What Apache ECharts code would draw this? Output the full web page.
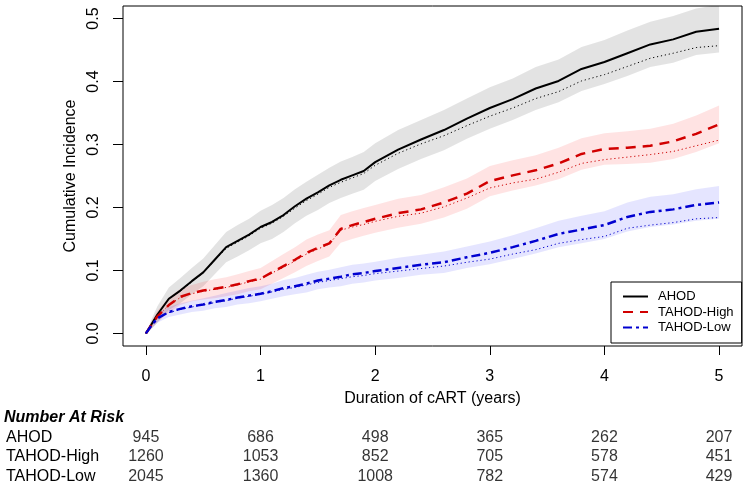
<!DOCTYPE html>
<html>
<head>
<meta charset="utf-8">
<script src="https://cdn.jsdelivr.net/npm/echarts@6/dist/echarts.min.js"></script>
<style>
html,body{margin:0;padding:0;background:#fff;}
#chart{width:748px;height:486px;}
</style>
</head>
<body>
<div id="chart"></div>
<script>
// ---- data ----
const T = [0, 0.05, 0.1, 0.2, 0.3, 0.4, 0.5, 0.6, 0.7, 0.8, 0.9, 1.0, 1.1, 1.2, 1.3, 1.4, 1.5, 1.6, 1.7, 1.8, 1.9, 2.0, 2.2, 2.4, 2.6, 2.8, 3.0, 3.2, 3.4, 3.6, 3.8, 4.0, 4.2, 4.4, 4.6, 4.8, 5.0];

const ahod      = [0, 0.015, 0.030, 0.055, 0.068, 0.083, 0.097, 0.117, 0.137, 0.147, 0.157, 0.169, 0.177, 0.188, 0.202, 0.214, 0.224, 0.235, 0.244, 0.251, 0.258, 0.272, 0.292, 0.308, 0.323, 0.341, 0.358, 0.372, 0.389, 0.401, 0.420, 0.431, 0.445, 0.459, 0.467, 0.479, 0.484];
const ahodAlt   = [0, 0.015, 0.030, 0.055, 0.067, 0.082, 0.096, 0.116, 0.135, 0.145, 0.155, 0.167, 0.175, 0.186, 0.199, 0.211, 0.221, 0.232, 0.240, 0.247, 0.254, 0.267, 0.286, 0.301, 0.314, 0.330, 0.345, 0.358, 0.373, 0.384, 0.401, 0.411, 0.424, 0.437, 0.445, 0.454, 0.457];
const ahodLo    = [0, 0.007, 0.017, 0.037, 0.048, 0.062, 0.075, 0.094, 0.113, 0.122, 0.132, 0.143, 0.150, 0.161, 0.175, 0.187, 0.196, 0.207, 0.215, 0.222, 0.228, 0.242, 0.261, 0.277, 0.291, 0.309, 0.325, 0.339, 0.355, 0.367, 0.385, 0.396, 0.409, 0.423, 0.430, 0.442, 0.446];
const ahodUp    = [0, 0.023, 0.043, 0.073, 0.088, 0.104, 0.119, 0.140, 0.161, 0.172, 0.182, 0.195, 0.204, 0.215, 0.229, 0.241, 0.252, 0.263, 0.273, 0.280, 0.288, 0.302, 0.323, 0.339, 0.355, 0.373, 0.391, 0.405, 0.423, 0.435, 0.455, 0.466, 0.481, 0.495, 0.504, 0.516, 0.522];

const high      = [0, 0.014, 0.027, 0.045, 0.058, 0.064, 0.068, 0.071, 0.074, 0.078, 0.083, 0.087, 0.097, 0.107, 0.117, 0.128, 0.136, 0.143, 0.166, 0.172, 0.177, 0.182, 0.191, 0.197, 0.208, 0.222, 0.242, 0.251, 0.259, 0.270, 0.285, 0.293, 0.295, 0.298, 0.305, 0.317, 0.332];
const highAlt   = [0, 0.014, 0.027, 0.045, 0.057, 0.063, 0.067, 0.070, 0.073, 0.077, 0.082, 0.086, 0.096, 0.105, 0.115, 0.126, 0.134, 0.142, 0.164, 0.169, 0.173, 0.178, 0.186, 0.191, 0.201, 0.215, 0.231, 0.239, 0.245, 0.256, 0.270, 0.276, 0.280, 0.284, 0.289, 0.298, 0.307];
const highLo    = [0, 0.008, 0.018, 0.033, 0.045, 0.051, 0.054, 0.056, 0.059, 0.062, 0.067, 0.070, 0.079, 0.088, 0.097, 0.107, 0.115, 0.122, 0.144, 0.150, 0.155, 0.160, 0.168, 0.174, 0.184, 0.198, 0.218, 0.227, 0.235, 0.245, 0.260, 0.268, 0.269, 0.271, 0.277, 0.288, 0.302];
const highUp    = [0, 0.020, 0.036, 0.057, 0.071, 0.077, 0.082, 0.086, 0.089, 0.094, 0.099, 0.104, 0.115, 0.126, 0.137, 0.149, 0.157, 0.164, 0.188, 0.194, 0.199, 0.204, 0.214, 0.220, 0.232, 0.246, 0.266, 0.275, 0.283, 0.295, 0.310, 0.318, 0.321, 0.325, 0.333, 0.346, 0.362];

const low       = [0, 0.013, 0.024, 0.034, 0.039, 0.043, 0.046, 0.050, 0.053, 0.057, 0.060, 0.063, 0.067, 0.072, 0.075, 0.079, 0.084, 0.087, 0.090, 0.094, 0.096, 0.099, 0.104, 0.109, 0.113, 0.121, 0.128, 0.137, 0.147, 0.158, 0.165, 0.172, 0.185, 0.193, 0.197, 0.204, 0.208];
const lowAlt    = [0, 0.013, 0.024, 0.033, 0.038, 0.042, 0.045, 0.049, 0.052, 0.056, 0.059, 0.062, 0.066, 0.070, 0.073, 0.077, 0.081, 0.084, 0.087, 0.090, 0.092, 0.095, 0.099, 0.103, 0.107, 0.113, 0.118, 0.126, 0.133, 0.143, 0.149, 0.154, 0.167, 0.172, 0.176, 0.182, 0.184];
const lowLo     = [0, 0.008, 0.017, 0.026, 0.030, 0.034, 0.036, 0.040, 0.042, 0.046, 0.048, 0.051, 0.055, 0.059, 0.062, 0.065, 0.070, 0.073, 0.075, 0.079, 0.081, 0.084, 0.088, 0.093, 0.096, 0.104, 0.110, 0.118, 0.127, 0.137, 0.143, 0.150, 0.162, 0.169, 0.173, 0.179, 0.182];
const lowUp     = [0, 0.018, 0.031, 0.042, 0.048, 0.052, 0.056, 0.060, 0.064, 0.068, 0.072, 0.075, 0.079, 0.085, 0.088, 0.093, 0.098, 0.101, 0.105, 0.109, 0.111, 0.114, 0.120, 0.125, 0.130, 0.138, 0.146, 0.156, 0.167, 0.179, 0.187, 0.194, 0.208, 0.217, 0.221, 0.229, 0.234];

const xTicks = [0, 1, 2, 3, 4, 5];
const yTicks = [0, 0.1, 0.2, 0.3, 0.4, 0.5];

const groups = ['AHOD', 'TAHOD-High', 'TAHOD-Low'];
const riskTimes = [0, 1, 2, 3, 4, 5];
const riskAHOD = [945, 686, 498, 365, 262, 207];
const riskHigh = [1260, 1053, 852, 705, 578, 451];
const riskLow  = [2045, 1360, 1008, 782, 574, 429];

// ---- chart ----
const FONT = '"Liberation Sans", Arial, Helvetica, sans-serif';
const pairs = vals => T.map((t, i) => [t, vals[i]]);

function band(name, lo, up, fill) {
  return {
    name: name, type: 'custom', silent: true, clip: true, z: 1,
    xAxisIndex: 0, yAxisIndex: 0,
    data: [[T[0], lo[0]]],
    renderItem: function (params, api) {
      const pts = [];
      for (let i = 0; i < T.length; i++) pts.push(api.coord([T[i], up[i]]));
      for (let i = T.length - 1; i >= 0; i--) pts.push(api.coord([T[i], lo[i]]));
      return { type: 'polygon', shape: { points: pts }, style: { fill: fill } };
    }
  };
}
function dotted(name, vals, color) {
  return {
    name: name, type: 'line', data: pairs(vals), symbol: 'none', silent: true, z: 3,
    clip: true, lineStyle: { color: color, width: 1, type: [1.2, 2.8] }
  };
}
function main(name, vals, color, width, dash) {
  return {
    name: name, type: 'line', data: pairs(vals), symbol: 'none', z: 4,
    clip: true, color: color,
    lineStyle: { color: color, width: width, type: dash }
  };
}
const riskRow = (name, vals) => riskTimes.map((t, i) => [t, name, vals[i]]);

const chart = echarts.init(document.getElementById('chart'), null, { renderer: 'canvas' });
chart.setOption({
  animation: false,
  backgroundColor: '#fff',
  textStyle: { fontFamily: FONT, color: '#000' },
  title: {
    text: 'Number At Risk', left: 4, top: 410, padding: 0,
    textStyle: { fontFamily: FONT, fontSize: 16, fontWeight: 'bold', fontStyle: 'italic', color: '#000' }
  },
  grid: [
    { left: 123, top: 6, width: 619, height: 340, show: true, borderColor: '#000', borderWidth: 1, backgroundColor: 'transparent' },
    { left: 123, top: 428, width: 619, height: 58, show: false }
  ],
  legend: {
    data: groups, left: 611, top: 282, orient: 'vertical',
    itemWidth: 25, itemHeight: 14, itemGap: 2.5,
    padding: [8, 8, 9, 11],
    backgroundColor: '#fff', borderColor: '#000', borderWidth: 1, borderRadius: 0,
    itemStyle: { color: 'rgba(0,0,0,0)', borderWidth: 0, opacity: 0 },
    textStyle: { fontFamily: FONT, fontSize: 13, color: '#000', padding: [0, 0, 0, 5] },
    selectedMode: false
  },
  xAxis: [
    {
      type: 'value', gridIndex: 0, min: -0.2, max: 5.2,
      name: 'Duration of cART (years)', nameLocation: 'middle', nameGap: 45,
      nameTextStyle: { fontFamily: FONT, fontSize: 16, color: '#000' },
      axisLine: { show: false, onZero: false },
      splitLine: { show: false },
      axisTick: { show: true, inside: false, length: 9, customValues: xTicks, lineStyle: { color: '#000', width: 1 } },
      axisLabel: { customValues: xTicks, margin: 23, fontFamily: FONT, fontSize: 16, color: '#000' }
    },
    {
      type: 'value', gridIndex: 1, min: -0.2, max: 5.2, show: false
    }
  ],
  yAxis: [
    {
      type: 'value', gridIndex: 0, min: -0.02, max: 0.52,
      name: 'Cumulative Incidence', nameLocation: 'middle', nameGap: 38, nameRotate: 90,
      nameTextStyle: { fontFamily: FONT, fontSize: 16, color: '#000' },
      axisLine: { show: false, onZero: false },
      splitLine: { show: false },
      axisTick: { show: true, inside: false, length: 10, customValues: yTicks, lineStyle: { color: '#000', width: 1 } },
      axisLabel: { customValues: yTicks, rotate: 90, margin: 21, fontFamily: FONT, fontSize: 16, color: '#000',
        formatter: v => v.toFixed(1) }
    },
    {
      type: 'category', gridIndex: 1, data: groups, inverse: true,
      axisLine: { show: false }, axisTick: { show: false }, splitLine: { show: false },
      axisLabel: { interval: 0, align: 'left', margin: 117, fontFamily: FONT, fontSize: 16, color: '#000' }
    }
  ],
  series: [
    band('AHOD band', ahodLo, ahodUp, 'rgba(0,0,0,0.11)'),
    band('TAHOD-High band', highLo, highUp, 'rgba(255,0,0,0.11)'),
    band('TAHOD-Low band', lowLo, lowUp, 'rgba(0,0,255,0.10)'),
    dotted('AHOD alt', ahodAlt, '#000'),
    dotted('TAHOD-High alt', highAlt, '#cd0000'),
    dotted('TAHOD-Low alt', lowAlt, '#0000cd'),
    main('AHOD', ahod, '#000', 2, 'solid'),
    main('TAHOD-High', high, '#d10000', 2.5, [10, 7]),
    main('TAHOD-Low', low, '#0000d0', 2.5, [9, 4, 3, 4]),
    {
      name: 'risk', type: 'scatter', xAxisIndex: 1, yAxisIndex: 1, silent: true,
      symbolSize: 1, itemStyle: { color: 'rgba(0,0,0,0)' },
      data: [].concat(riskRow('AHOD', riskAHOD), riskRow('TAHOD-High', riskHigh), riskRow('TAHOD-Low', riskLow)),
      label: { show: true, position: 'inside', formatter: p => String(p.value[2]),
        fontFamily: FONT, fontSize: 16, color: '#000' }
    }
  ]
});
</script>
</body>
</html>
